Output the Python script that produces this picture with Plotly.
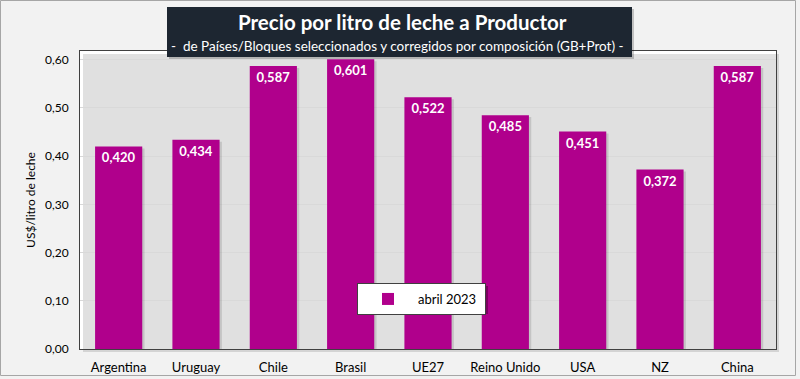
import plotly.graph_objects as go

categories = ["Argentina", "Uruguay", "Chile", "Brasil", "UE27", "Reino Unido", "USA", "NZ", "China"]
values = [0.420, 0.434, 0.587, 0.601, 0.522, 0.485, 0.451, 0.372, 0.587]
series_name = "abril 2023"
tick_vals = [0, 0.1, 0.2, 0.3, 0.4, 0.5, 0.6]

W, H = 800, 379
L, R, T, B = 80, 24, 51, 30
pw, ph = W - L - R, H - T - B

def px(x):
    return (x - L) / pw

def py(y):
    return (H - B - y) / ph

FONT = "Lato"
BAR = "#b0008c"

fig = go.Figure()
# soft shadow behind bars
fig.add_trace(go.Bar(
    x=categories, y=[v - 0.004 for v in values], width=0.61, offset=-0.305 + 0.03,
    marker=dict(color="rgba(0,0,0,0.12)", line=dict(width=0)),
    showlegend=False, hoverinfo="skip",
))
fig.add_trace(go.Bar(
    x=categories, y=values, name=series_name + "&nbsp;", width=0.61, offset=-0.305,
    marker=dict(color=BAR, line=dict(width=0)),
    texttemplate="%{y:.3f}", textposition="inside", insidetextanchor="end",
    textfont=dict(color="white", size=13, family=FONT, weight="bold"),
    textangle=0, constraintext="none", cliponaxis=False,
))

fig.update_layout(
    width=W, height=H,
    margin=dict(l=L, r=R, t=T, b=B, autoexpand=False),
    paper_bgcolor="#f2f2f2", plot_bgcolor="white",
    separators=",.",
    barmode="overlay",
    font=dict(family=FONT, size=13, color="#000000"),
    showlegend=True,
    legend=dict(
        x=px(357), y=py(283), xanchor="left", yanchor="top",
        orientation="h", bgcolor="white", bordercolor="#404040", borderwidth=1,
        font=dict(size=13, family=FONT, color="black"),
        itemwidth=50,
    ),
    xaxis=dict(
        range=[-0.5, len(categories) - 0.5],
        showline=True, mirror=True, linecolor="#404040", linewidth=1,
        ticks="outside", ticklen=6, tickcolor="rgba(0,0,0,0)",
        tickfont=dict(size=13, family=FONT), fixedrange=True, automargin=False,
    ),
    yaxis=dict(
        range=[0, 0.618], tickvals=tick_vals, tickformat=".2f",
        showline=True, mirror=True, linecolor="#404040", linewidth=1,
        showgrid=True, gridcolor="#d9d9d9", gridwidth=1, zeroline=False,
        tickfont=dict(size=12, family=FONT),
        ticks="outside", ticklen=8, tickcolor="rgba(0,0,0,0)",
        title=dict(text="US$/litro de leche", font=dict(size=12, family=FONT), standoff=6),
        fixedrange=True, automargin=False,
    ),
    shapes=[
        # outer frame
        dict(type="rect", xref="paper", yref="paper", x0=px(0.5), x1=px(W - 4.5), y0=py(H - 3.5), y1=py(0.5),
             line=dict(color="#a6a6a6", width=1), layer="below"),
        # plot-area shadow
        dict(type="rect", xref="paper", yref="paper", x0=px(L + 3), x1=px(W - R + 3), y0=py(H - B + 3), y1=py(T + 3),
             fillcolor="rgba(0,0,0,0.12)", line=dict(width=0), layer="below"),
        # legend shadow
        dict(type="rect", xref="paper", yref="paper", x0=px(360), x1=px(488), y0=py(314), y1=py(286),
             fillcolor="rgba(0,0,0,0.3)", line=dict(width=0), layer="above"),
        # title box shadow
        dict(type="rect", xref="paper", yref="paper", x0=px(169), x1=px(634), y0=py(59), y1=py(9),
             fillcolor="rgba(0,0,0,0.2)", line=dict(width=0), layer="above"),
        # title box
        dict(type="rect", xref="paper", yref="paper", x0=px(167), x1=px(632), y0=py(57), y1=py(7),
             fillcolor="#1d2631", line=dict(width=0), layer="above"),
    ],
    annotations=[
        dict(text="<b>Precio por litro de leche a Productor</b>", xref="paper", yref="paper",
             x=px(402), y=py(22), xanchor="center", yanchor="middle", showarrow=False,
             font=dict(size=20.5, color="white", family=FONT)),
        dict(text="-  de Países/Bloques seleccionados y corregidos por composición (GB+Prot) -", xref="paper", yref="paper",
             x=px(397), y=py(46), xanchor="center", yanchor="middle", showarrow=False,
             font=dict(size=13.5, color="white", family=FONT)),
    ],
)

fig.write_html("out.html", config={"displayModeBar": False},
               post_script="document.body.style.margin='0';document.body.style.padding='0';")
